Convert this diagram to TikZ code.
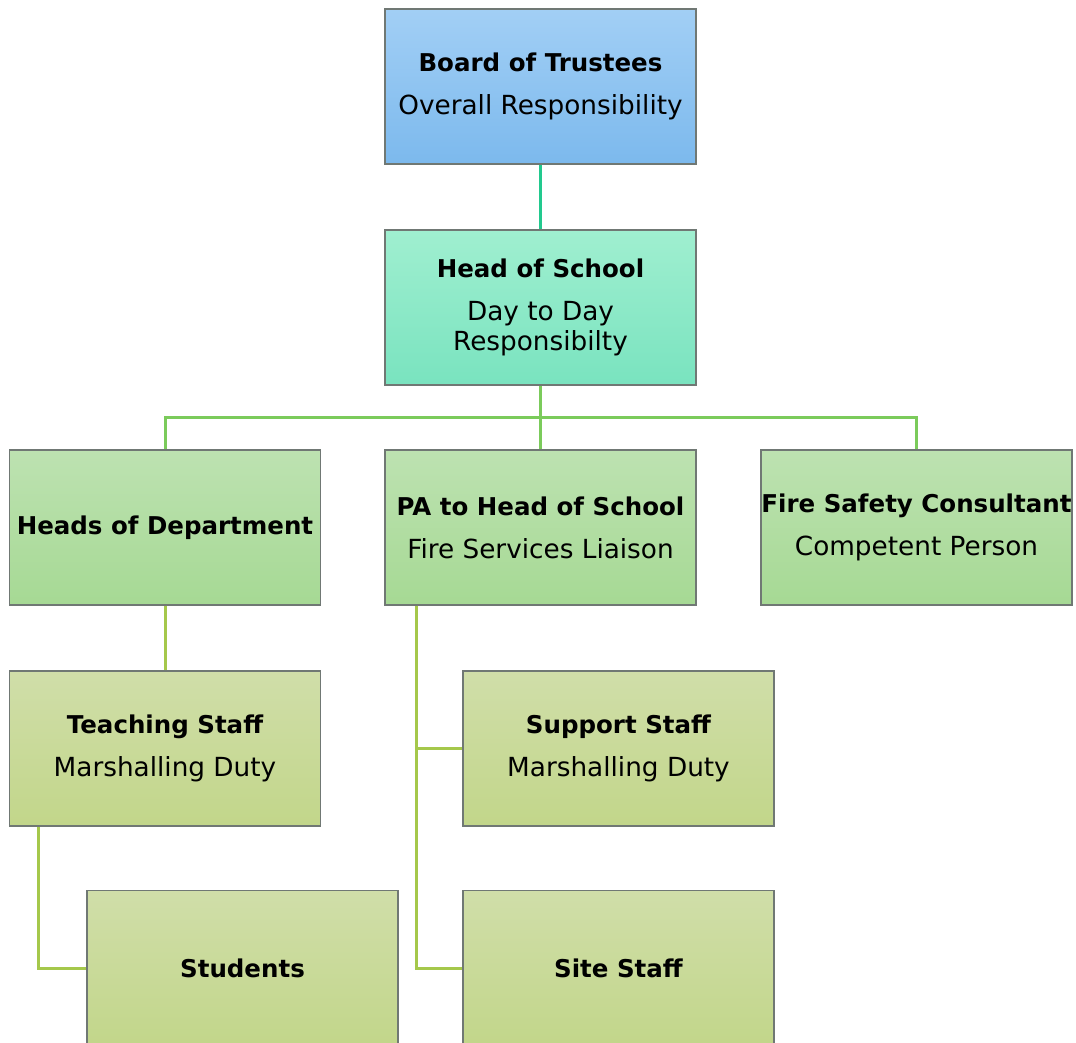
\documentclass[tikz,border=0pt]{standalone}
\usepackage{fontspec}
\setmainfont{DejaVu Sans}
\definecolor{bordc}{RGB}{112,120,116}
\definecolor{blueT}{RGB}{162,207,245}
\definecolor{blueB}{RGB}{124,185,237}
\definecolor{mintT}{RGB}{160,239,208}
\definecolor{mintB}{RGB}{121,227,191}
\definecolor{greenT}{RGB}{189,226,177}
\definecolor{greenB}{RGB}{166,217,148}
\definecolor{oliveT}{RGB}{208,222,169}
\definecolor{oliveB}{RGB}{194,214,138}
\definecolor{lineTeal}{RGB}{34,201,142}
\definecolor{lineGreen}{RGB}{123,203,91}
\definecolor{lineOlive}{RGB}{165,200,75}
\newcommand{\ttl}[1]{{\bfseries\fontsize{24.5}{30}\selectfont #1}}
\begin{document}
\begin{tikzpicture}[x=1pt,y=-1pt,
  orgbox/.style={draw=bordc,line width=1.2pt,rectangle,minimum width=311pt,minimum height=155pt,
    inner sep=0pt,align=center,font=\fontsize{26.3}{30}\selectfont},
  lvla/.style={orgbox,top color=blueT,bottom color=blueB},
  lvlb/.style={orgbox,top color=mintT,bottom color=mintB},
  lvlc/.style={orgbox,top color=greenT,bottom color=greenB},
  lvld/.style={orgbox,top color=oliveT,bottom color=oliveB},
  conA/.style={draw=lineTeal,line width=3pt},
  conB/.style={draw=lineGreen,line width=3pt},
  conC/.style={draw=lineOlive,line width=3pt}]
\useasboundingbox (0,0) rectangle (1076,1043);
\fill[white] (0,0) rectangle (1076,1043);
\coordinate (bus) at (540.5,417);
\node[lvla] (board) at (540.5,86.5) {\ttl{Board of Trustees}\\[13pt]Overall Responsibility};
\node[lvlb] (head) at (540.5,307.5) {\ttl{Head of School}\\[13pt]Day to Day\\Responsibilty};
\node[lvlc] (hod) at (165,527.5) {\ttl{Heads of Department}};
\node[lvlc] (pa) at (540.5,527.5) {\ttl{PA to Head of School}\\[13pt]Fire Services Liaison};
\node[lvlc] (fire) at (916.5,527.5) {\ttl{Fire Safety Consultant}\\[13pt]Competent Person};
\node[lvld] (teach) at (165,748.5) {\ttl{Teaching Staff}\\[13pt]Marshalling Duty};
\node[lvld] (support) at (618.5,748.5) {\ttl{Support Staff}\\[13pt]Marshalling Duty};
\node[lvld] (students) at (242.5,968) {\ttl{Students}};
\node[lvld] (site) at (618.5,968) {\ttl{Site Staff}};
\coordinate (tdrop) at ([xshift=30pt]teach.south west);
\coordinate (pdrop) at ([xshift=32pt]pa.south west);
\draw[conA] (board.south) -- (head.north);
\draw[conB] (head.south) -- (bus);
\draw[conB] (bus) -| (hod.north);
\draw[conB] (bus) -| (fire.north);
\draw[conB] (bus) -- (pa.north);
\draw[conC] (hod.south) -- (teach.north);
\draw[conC] (tdrop) |- (students.west);
\draw[conC] (pdrop) |- (support.west);
\draw[conC] (pdrop) |- (site.west);
\end{tikzpicture}
\end{document}
